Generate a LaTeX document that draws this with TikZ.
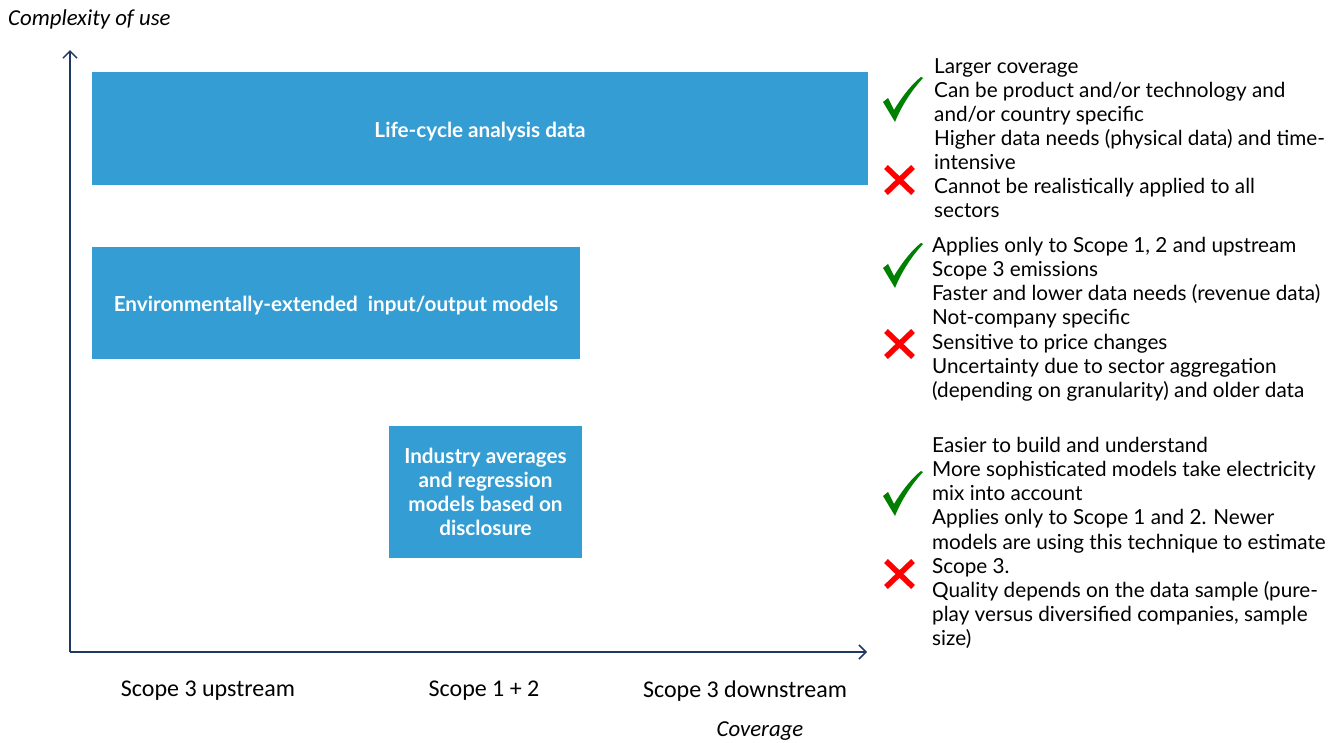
\documentclass[tikz,border=0pt]{standalone}
\usepackage{fontspec}
\newfontfamily\lato{Lato}
\newfontfamily\carl{Carlito}
\usetikzlibrary{arrows.meta}
\definecolor{boxblue}{RGB}{52,157,211}
\definecolor{axisnavy}{RGB}{31,56,100}
\definecolor{chkgreen}{RGB}{0,128,0}
\definecolor{crsred}{RGB}{255,0,0}
\tikzset{
  method/.style={fill=boxblue, draw=none, inner sep=0pt, text=white, align=center,
    font=\lato\bfseries\fontsize{20.7}{24}\selectfont},
  lowtext/.style={text height=21pt, text depth=4pt},
  axisline/.style={draw=axisnavy, line width=1.5pt, -{Straight Barb[length=7pt,width=14pt,line width=1.5pt]}},
  axlabel/.style={font=\carl\fontsize{24}{28}\selectfont, text=black, inner sep=0pt},
  axtitle/.style={font=\carl\itshape\fontsize{22.8}{26}\selectfont, text=black, inner sep=0pt},
  notes/.style={font=\lato\fontsize{20.7}{24.15}\selectfont, align=left, anchor=north west, inner sep=0pt, text=black},
  chk/.pic={\fill[chkgreen] (0,25) -- (5,21) -- (11,33) .. controls (20,18) and (30,6) .. (38,0) -- (40,1) .. controls (28,14) and (18,30) .. (12,45) -- cycle;},
  crs/.pic={\draw[crsred, line width=5.5pt] (2,2) -- (29,28) (29,2) -- (2,28);}
}
\begin{document}
\begin{tikzpicture}[x=1pt,y=-1pt]
\useasboundingbox (0,0) rectangle (1338,742);
% axes
\coordinate (origin) at (70,652);
\coordinate (ytip) at (70,50);
\coordinate (xtip) at (867,652);
\draw[axisline] (origin) -- (ytip);
\draw[axisline] (origin) -- (xtip);
\node[axtitle, anchor=west] (ylab) at (8,19.5) {Complexity of use};
\node[axtitle] (xlab) at (760,731.5) {Coverage};
\node[axlabel] (s3up) at (208,691) {Scope 3 upstream};
\node[axlabel] (s12) at (484,691) {Scope 1 + 2};
\node[axlabel] (s3down) at (745,691) {Scope 3 downstream};
% boxes
\node[method, lowtext, minimum width=776pt, minimum height=113pt] (lca) at (480,128.5) {Life-cycle analysis data};
\node[method, lowtext, minimum width=488pt, minimum height=112pt] (eeio) at (336,303) {Environmentally-extended\ \ input/output models};
\node[method, minimum width=193pt, minimum height=132pt] (ind) at (485.5,491.5) {Industry averages\\and regression\\models based on\\disclosure};
% notes
\pic at (883,77) {chk};
\pic at (884,165) {crs};
\node[notes] (n1) at (934,58) {Larger coverage\\Can be product and/or technology and\\and/or country specific\\Higher data needs (physical data) and time-\\intensive\\Cannot be realistically applied to all\\sectors};
\pic at (883,243) {chk};
\pic at (884,329) {crs};
\node[notes] (n2) at (932,237) {Applies only to Scope 1, 2 and upstream\\Scope 3 emissions\\Faster and lower data needs (revenue data)\\Not-company specific\\Sensitive to price changes\\Uncertainty due to sector aggregation\\(depending on granularity) and older data};
\pic at (883,471) {chk};
\pic at (884,559) {crs};
\node[notes] (n3) at (932,437) {Easier to build and understand\\More sophisticated models take electricity\\mix into account\\Applies only to Scope 1 and 2. Newer\\models are using this technique to estimate\\Scope 3.\\Quality depends on the data sample (pure-\\play versus diversified companies, sample\\size)};
\end{tikzpicture}
\end{document}
